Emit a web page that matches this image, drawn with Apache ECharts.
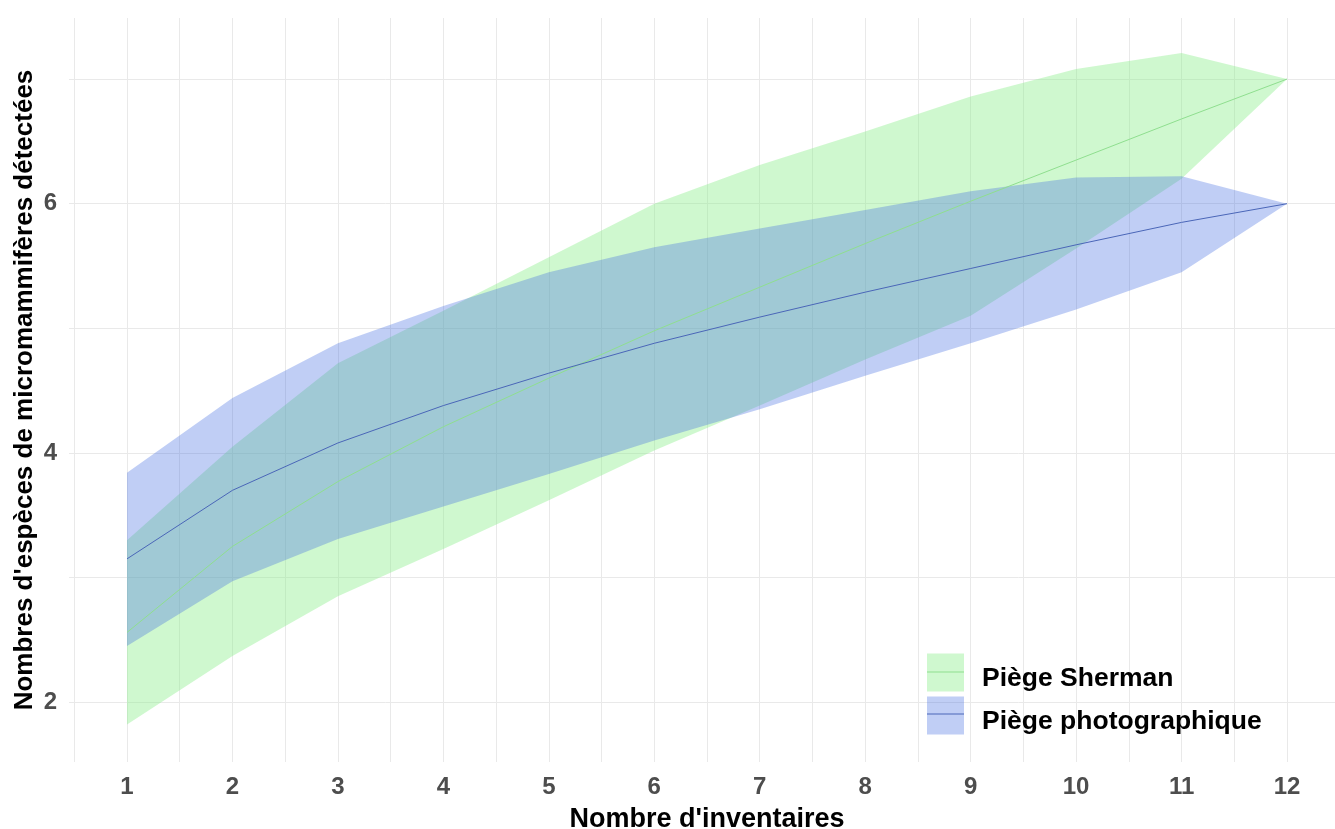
<!DOCTYPE html>
<html>
<head>
<meta charset="utf-8">
<script src="https://cdn.jsdelivr.net/npm/echarts@6/dist/echarts.min.js"></script>
<style>
html,body{margin:0;padding:0;background:#fff;}
#chart{width:1335px;height:829px;}
</style>
</head>
<body>
<div id="chart"></div>
<script>
// ---- data ----
const inventaires = [1, 2, 3, 4, 5, 6, 7, 8, 9, 10, 11, 12];
const shermanMean  = [2.56, 3.25, 3.77, 4.21, 4.60, 4.98, 5.33, 5.68, 6.02, 6.35, 6.68, 7.00];
const shermanLower = [1.82, 2.37, 2.85, 3.23, 3.62, 4.02, 4.38, 4.75, 5.10, 5.64, 6.20, 7.00];
const shermanUpper = [3.30, 4.05, 4.72, 5.14, 5.57, 6.00, 6.31, 6.58, 6.86, 7.08, 7.21, 7.00];
const photoMean  = [3.15, 3.70, 4.08, 4.38, 4.64, 4.88, 5.09, 5.29, 5.48, 5.67, 5.85, 6.00];
const photoLower = [2.45, 2.97, 3.31, 3.57, 3.83, 4.10, 4.35, 4.62, 4.88, 5.15, 5.45, 6.00];
const photoUpper = [3.84, 4.44, 4.88, 5.18, 5.45, 5.65, 5.80, 5.95, 6.10, 6.21, 6.22, 6.00];
const xTickLabels = [1, 2, 3, 4, 5, 6, 7, 8, 9, 10, 11, 12];
const yTickLabels = [2, 4, 6];
const xGridValues = [0.5, 1, 1.5, 2, 2.5, 3, 3.5, 4, 4.5, 5, 5.5, 6, 6.5, 7, 7.5, 8, 8.5, 9, 9.5, 10, 10.5, 11, 11.5, 12];
const yGridValues = [2, 3, 4, 5, 6, 7];
const seriesNames = ['Piège Sherman', 'Piège photographique'];

// ---- styling ----
const FONT = '"Liberation Sans", Arial, sans-serif';
const greenFill = 'rgba(144,238,144,0.43)';
const blueFill  = 'rgba(65,105,225,0.33)';
const greenLine = '#8fdf8f';
const blueLine  = '#4a66b8';
const gridColor = '#e9e9e9';

function band(name, lower, upper, fill) {
  const rows = inventaires.map((x, i) => [x, lower[i], upper[i]]);
  return {
    type: 'custom',
    name: name,
    coordinateSystem: 'cartesian2d',
    z: 2,
    silent: true,
    itemStyle: { color: fill },
    encode: { x: 0, y: [1, 2] },
    data: rows,
    renderItem: function (params, api) {
      if (params.dataIndex !== 0) return null;
      const pts = [];
      for (let i = 0; i < inventaires.length; i++) pts.push(api.coord([inventaires[i], upper[i]]));
      for (let i = inventaires.length - 1; i >= 0; i--) pts.push(api.coord([inventaires[i], lower[i]]));
      return { type: 'polygon', shape: { points: pts }, style: { fill: fill } };
    }
  };
}

function meanLine(name, vals, color) {
  return {
    type: 'line',
    name: name,
    z: 3,
    silent: true,
    showSymbol: false,
    symbol: 'none',
    lineStyle: { color: color, width: 1 },
    data: inventaires.map((x, i) => [x, vals[i]])
  };
}

const chart = echarts.init(document.getElementById('chart'), null, { renderer: 'canvas' });

const gridSeries = {
  type: 'line',
  name: 'grid',
  data: [],
  silent: true,
  z: 1,
  markLine: {
    silent: true,
    symbol: ['none', 'none'],
    z: 1,
    animation: false,
    label: { show: false },
    lineStyle: { color: gridColor, width: 1, type: 'solid' },
    emphasis: { disabled: true },
    data: xGridValues.map(v => ({ xAxis: v })).concat(yGridValues.map(v => ({ yAxis: v })))
  }
};

chart.setOption({
  animation: false,
  backgroundColor: '#ffffff',
  textStyle: { fontFamily: FONT },
  grid: { left: 69, right: 0, top: 18, bottom: 67, containLabel: false, outerBoundsMode: 'none' },
  xAxis: {
    type: 'value',
    min: 0.45,
    max: 12.455,
    name: "Nombre d'inventaires",
    nameLocation: 'middle',
    nameGap: 44,
    nameMoveOverlap: false,
    nameTextStyle: { fontSize: 27, fontWeight: 'bold', color: '#000', fontFamily: FONT, padding: [0, 0, 0, 10] },
    axisLine: { show: false },
    axisTick: { show: false },
    splitLine: { show: false },
    axisLabel: {
      customValues: xTickLabels,
      fontSize: 24, fontWeight: 'bold', color: '#4d4d4d', margin: 13, fontFamily: FONT
    }
  },
  yAxis: {
    type: 'value',
    min: 1.52,
    max: 7.49,
    name: "Nombres d'espèces de micromammifères détectées",
    nameLocation: 'middle',
    nameGap: 31,
    nameMoveOverlap: false,
    nameTextStyle: { fontSize: 26, fontWeight: 'bold', color: '#000', fontFamily: FONT },
    axisLine: { show: false },
    axisTick: { show: false },
    splitLine: { show: false },
    axisLabel: {
      customValues: yTickLabels,
      fontSize: 24, fontWeight: 'bold', color: '#4d4d4d', margin: 12, fontFamily: FONT
    }
  },
  legend: {
    data: seriesNames,
    orient: 'vertical',
    left: 927,
    top: 653,
    padding: 0,
    icon: 'rect',
    itemWidth: 37,
    itemHeight: 38,
    itemGap: 4,
    selectedMode: false,
    formatter: function (name) { return '\n' + name; },
    textStyle: { fontSize: 26.5, lineHeight: 12, fontWeight: 'bold', color: '#000', fontFamily: FONT, padding: [0, 0, 0, 13] }
  },
  graphic: [
    { type: 'line', z: 100, shape: { x1: 927, y1: 672, x2: 964, y2: 672 }, style: { stroke: greenLine, lineWidth: 1 } },
    { type: 'line', z: 100, shape: { x1: 927, y1: 714, x2: 964, y2: 714 }, style: { stroke: blueLine, lineWidth: 1 } }
  ],
  series: [
    gridSeries,
    band(seriesNames[0], shermanLower, shermanUpper, greenFill),
    band(seriesNames[1], photoLower, photoUpper, blueFill),
    meanLine('Sherman (moyenne)', shermanMean, greenLine),
    meanLine('Photographique (moyenne)', photoMean, blueLine)
  ]
});
</script>
</body>
</html>
